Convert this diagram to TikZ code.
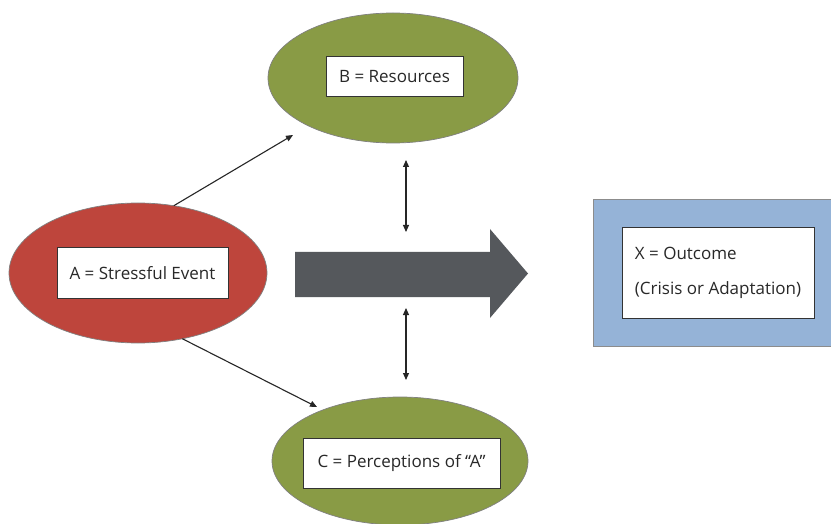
\documentclass[tikz,border=0pt]{standalone}
\usepackage{fontspec}
\setmainfont{Open Sans}
\usepackage{tikz}
\usetikzlibrary{positioning,arrows.meta,shapes.geometric}
\definecolor{stressred}{RGB}{190,69,60}
\definecolor{resgreen}{RGB}{137,155,69}
\definecolor{outblue}{RGB}{149,179,215}
\definecolor{bigarrow}{RGB}{85,88,92}
\definecolor{labeltext}{RGB}{40,40,40}

\begin{document}
\begin{tikzpicture}[x=1pt,y=-1pt]
  \tikzset{EllipseStyle/.style = {
    shape         = ellipse,
    draw          = black!50,
    line width    = 0.7pt,
    inner sep     = 0pt,
    outer sep     = 0pt
    }
  }
  \tikzset{LabelStyle/.style = {
    shape         = rectangle,
    draw          = black!80,
    fill          = white,
    line width    = 1pt,
    text          = labeltext,
    font          = \fontsize{17}{20}\selectfont,
    inner sep     = 0pt,
    outer sep     = 0pt
    }
  }
  \tikzset{EdgeStyle/.style = {
    draw          = black!85,
    line width    = 1.1pt,
    -{Triangle[length=7pt,width=6pt]}
    }
  }
  \tikzset{BothStyle/.style = {
    EdgeStyle,
    {Triangle[length=7pt,width=6pt]}-{Triangle[length=7pt,width=6pt]}
    }
  }
  \useasboundingbox (0,0) rectangle (831,524);
  \fill[white] (0,0) rectangle (831,524);

	\node[EllipseStyle, fill=stressred, minimum width=258, minimum height=140](A) at (138,273) {};
	\node[EllipseStyle, fill=resgreen, minimum width=250, minimum height=130](B) at (393,78) {};
	\node[EllipseStyle, fill=resgreen, minimum width=256, minimum height=128](C) at (400,461) {};
	\node[rectangle, draw=black!45, line width=0.7pt, fill=outblue, minimum width=244, minimum height=147, inner sep=0pt](X) at (715,272.5) {};
	%
	\node[LabelStyle, minimum width=171, minimum height=50](Alabel) at (142.5,273) {A = Stressful Event};
	\node[LabelStyle, minimum width=137, minimum height=40](Blabel) at (394.5,77) {B = Resources};
	\node[LabelStyle, minimum width=197, minimum height=50](Clabel) at (401.5,463) {C = Perceptions of “A”};
	\node[LabelStyle, align=left, minimum width=192, minimum height=90, font=\fontsize{17}{35}\selectfont](Xlabel) at (718,273) {X = Outcome\\(Crisis or Adaptation)};
	%
	\fill[bigarrow] (295,252) -- (490,252) -- (490,229) -- (528,273.5) -- (490,318) -- (490,297) -- (295,297) -- cycle;
	%
	\coordinate (ABend) at (293,135);
	\coordinate (ACend) at (317,407);
	\coordinate (Btop) at (406,160);
	\coordinate (Bbot) at (406,232);
	\coordinate (Ctop) at (406,308);
	\coordinate (Cbot) at (406,380);
	\draw[EdgeStyle](A.62) to (ABend);
	\draw[EdgeStyle](A.-56) to (ACend);
	\draw[BothStyle](Btop) to (Bbot);
	\draw[BothStyle](Ctop) to (Cbot);

\end{tikzpicture}
\end{document}
